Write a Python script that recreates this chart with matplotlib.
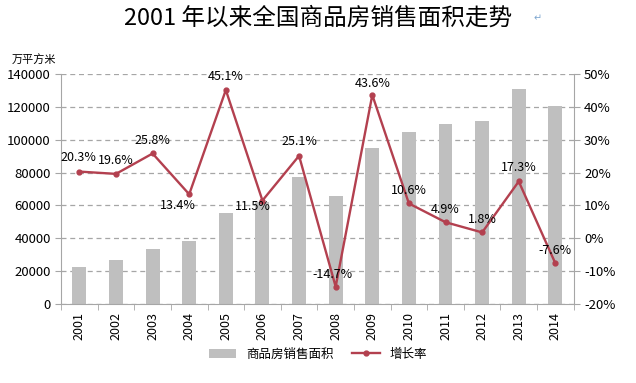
import matplotlib.pyplot as plt
import numpy as np

plt.rcParams['font.family'] = ['Noto Sans CJK SC', 'DejaVu Sans']

years = ['2001', '2002', '2003', '2004', '2005', '2006', '2007',
         '2008', '2009', '2010', '2011', '2012', '2013', '2014']
area = [22412, 26808, 33718, 38232, 55486, 61857, 77355,
        65970, 94755, 104765, 109367, 111304, 130551, 120649]
growth = [20.3, 19.6, 25.8, 13.4, 45.1, 11.5, 25.1,
          -14.7, 43.6, 10.6, 4.9, 1.8, 17.3, -7.6]

# label offsets in points (dx, dy)
offsets = [(-1, 10), (0, 9.5), (0, 9), (-8, -8), (0, 10), (-7, -4), (0, 10),
           (-2, 9), (0, 8), (0, 9.5), (0, 9.5), (0, 9), (0, 10), (0, 9)]

bar_color = '#BFBFBF'
line_color = '#B3404F'

fig = plt.figure(figsize=(6.36, 3.83), dpi=100)
ax = fig.add_axes([0.096, 0.206, 0.806, 0.601])
x = np.arange(len(years))

ax.set_axisbelow(True)
ax.grid(axis='y', linestyle=(0, (4, 3)), color='#A6A6A6', linewidth=0.9)
ax.bar(x, area, width=0.38, color=bar_color, label='商品房销售面积', zorder=2)
ax.set_ylim(0, 140000)
ax.set_yticks(np.arange(0, 140001, 20000))
ax.set_xlim(-0.5, len(years) - 0.5)
ax.set_xticks(x)
ax.set_xticklabels(years, rotation=90, fontsize=9)
ax.tick_params(axis='x', length=0, pad=6)
ax.set_xticks(np.arange(-0.5, len(years), 1), minor=True)
ax.tick_params(axis='x', which='minor', length=4, color='#A6A6A6')
ax.tick_params(axis='y', labelsize=9.5, length=4, color='#A6A6A6')
for s in ['top', 'right']:
    ax.spines[s].set_visible(False)
for s in ['left', 'bottom']:
    ax.spines[s].set_color('#A6A6A6')

ax2 = ax.twinx()
ax2.plot(x, growth, color=line_color, linewidth=1.7, marker='o',
         markersize=3.5, label='增长率', zorder=3)
ax2.set_ylim(-20, 50)
ax2.set_yticks(np.arange(-20, 51, 10))
ax2.set_yticklabels([f'{v}%' for v in range(-20, 51, 10)])
ax2.tick_params(axis='y', labelsize=9.5, length=4, color='#A6A6A6')
for s in ['top', 'left', 'bottom']:
    ax2.spines[s].set_visible(False)
ax2.spines['right'].set_color('#A6A6A6')

for i, g in enumerate(growth):
    ax2.annotate(f'{g}%', (x[i], g), xytext=offsets[i], textcoords='offset points',
                 ha='center', va='center', fontsize=9)

fig.text(0.5, 0.953, '2001 年以来全国商品房销售面积走势', ha='center', va='center',
         fontsize=17, fontweight='medium')
fig.text(0.845, 0.953, '↵', ha='center', va='center', fontsize=7,
         color='#7FA7D0', family='DejaVu Sans')
fig.text(0.018, 0.845, '万平方米', fontsize=8, ha='left', va='center')

h1, l1 = ax.get_legend_handles_labels()
h2, l2 = ax2.get_legend_handles_labels()
fig.legend(h1 + h2, l1 + l2, loc='center', bbox_to_anchor=(0.5, 0.075), ncol=2,
           frameon=False, fontsize=9, handlelength=2.2, columnspacing=1.5)

fig.savefig('out.png', dpi=100)
